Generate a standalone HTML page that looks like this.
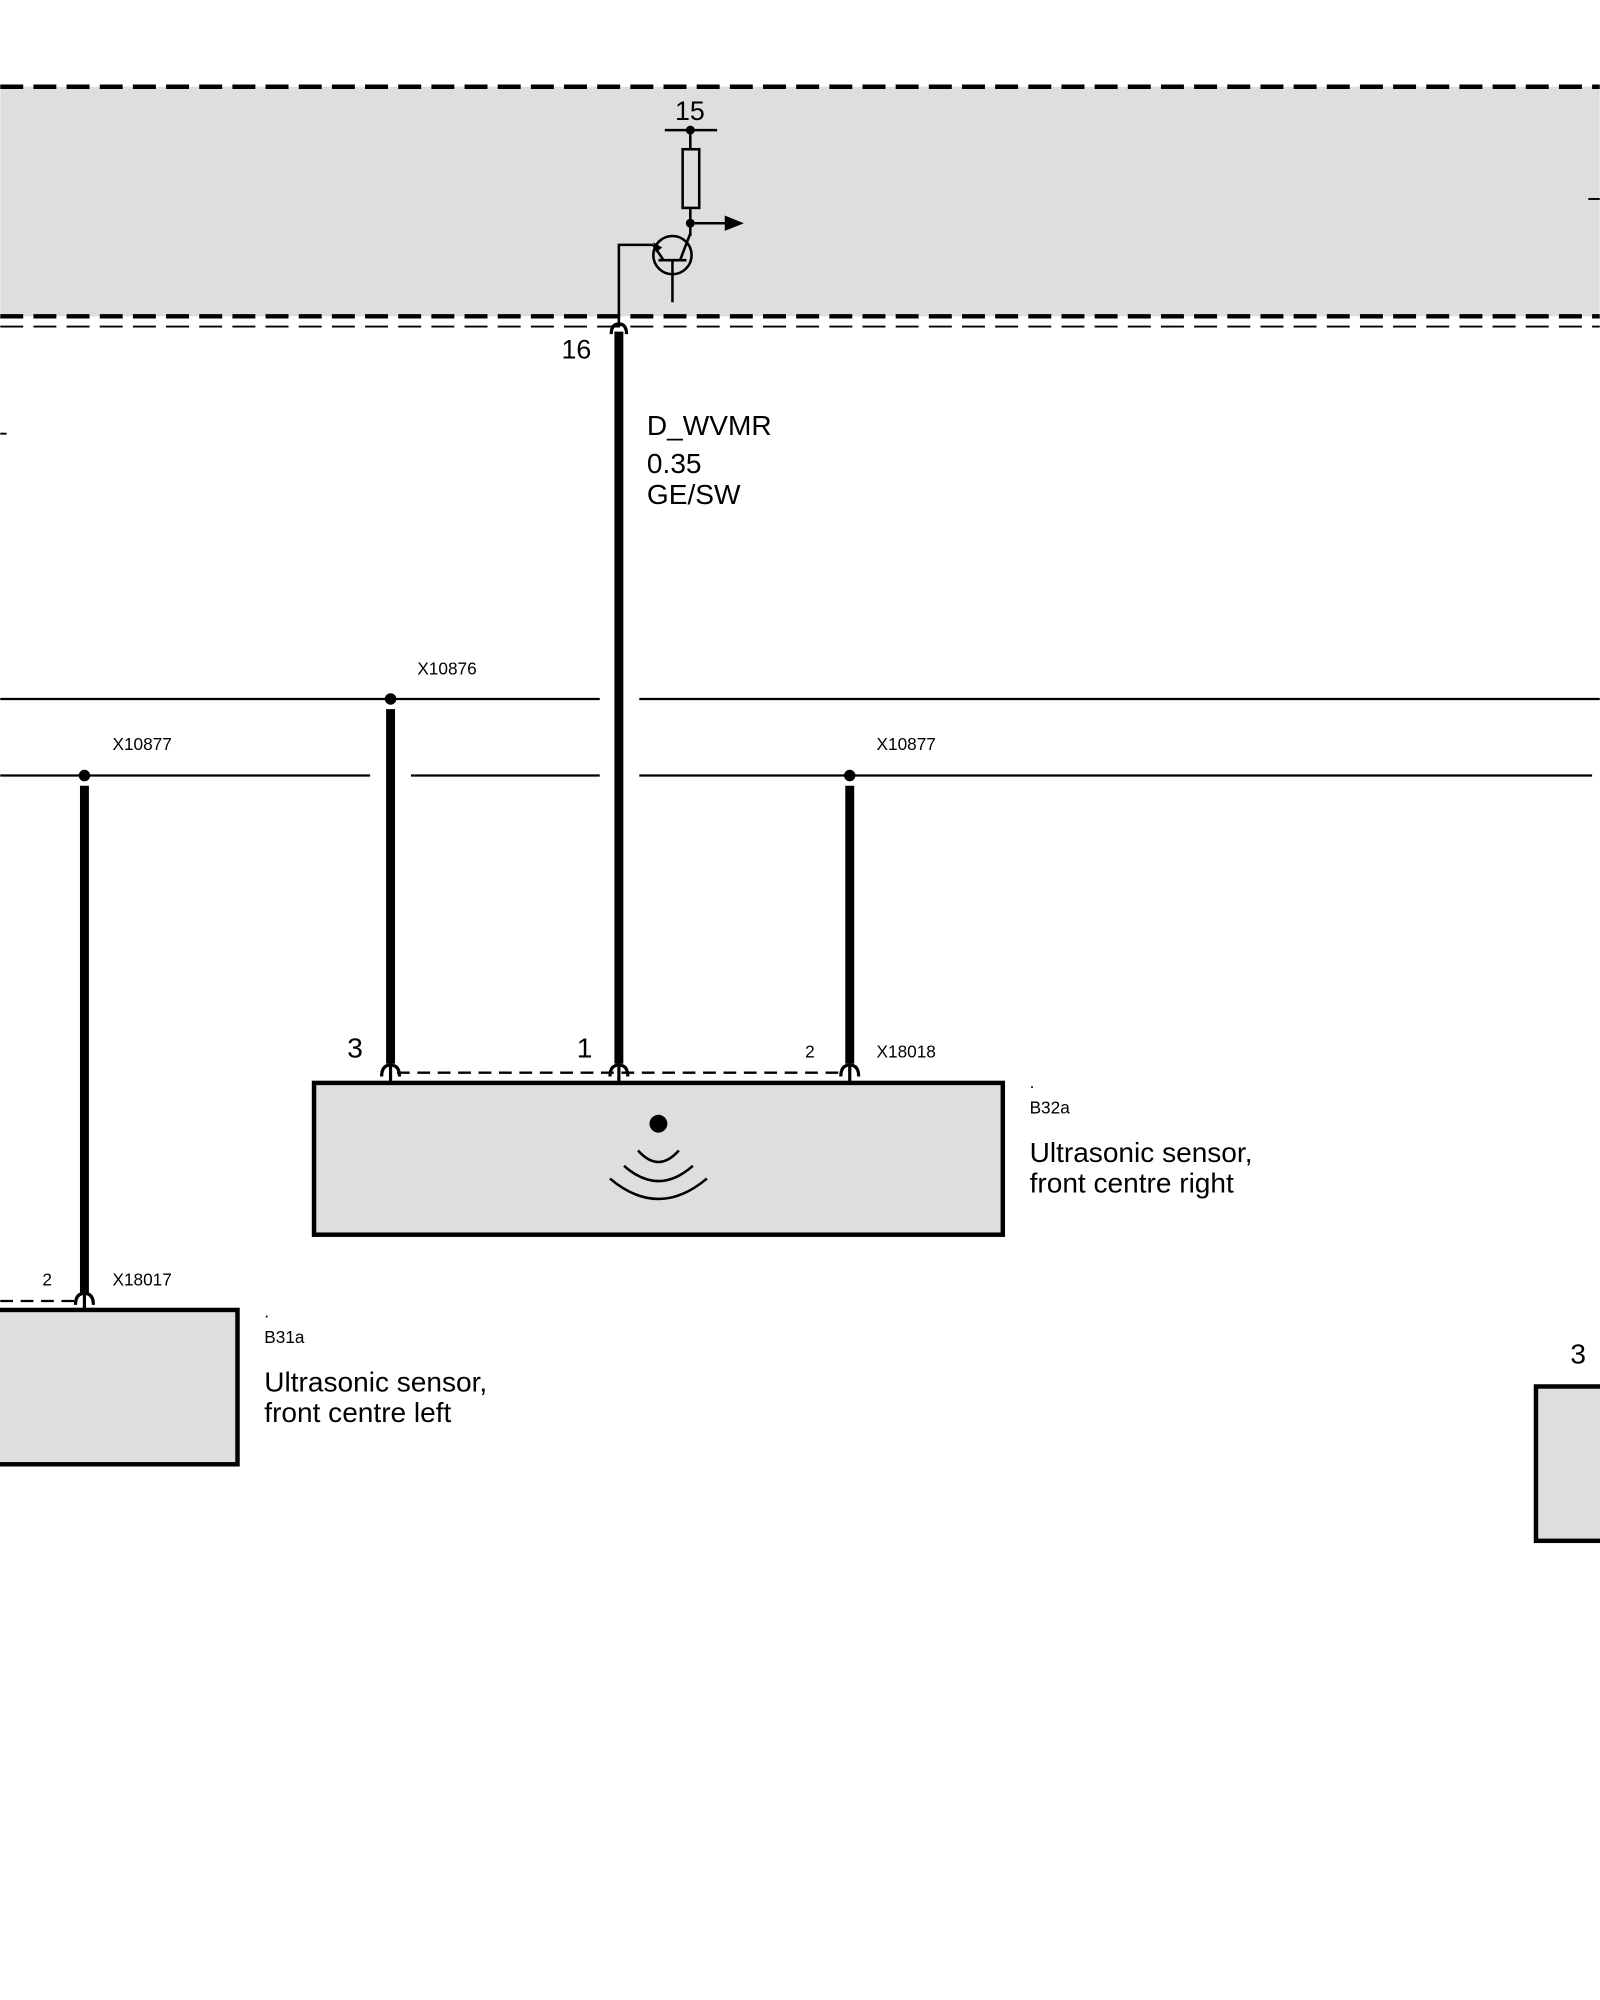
<!DOCTYPE html>
<html><head><meta charset="utf-8"><style>
html,body{margin:0;padding:0;background:#fff;}
svg{display:block;}
text{font-family:"Liberation Sans",sans-serif;fill:#000;}
</style></head><body>
<svg width="1600" height="2000" viewBox="0 0 1254 1568" xmlns="http://www.w3.org/2000/svg">
<rect x="0" y="68" width="1254" height="180" fill="#dedede"/>
<line x1="0" y1="68" x2="1254" y2="68" stroke="#000" stroke-width="3.5" stroke-dasharray="18,8"/>
<line x1="0" y1="248" x2="1254" y2="248" stroke="#000" stroke-width="3.5" stroke-dasharray="18,8"/>
<line x1="0" y1="256" x2="1254" y2="256" stroke="#000" stroke-width="1.5" stroke-dasharray="18,8"/>
<line x1="1245" y1="156" x2="1254" y2="156" stroke="#000" stroke-width="1.5"/>
<line x1="0" y1="340" x2="5" y2="340" stroke="#000" stroke-width="1.5"/>
<text x="529" y="94" font-size="21">15</text>
<line x1="521" y1="102" x2="562" y2="102" stroke="#000" stroke-width="2"/>
<circle cx="541" cy="102" r="3.5"/>
<line x1="541" y1="102" x2="541" y2="117" stroke="#000" stroke-width="2"/>
<rect x="535" y="117" width="13" height="46" fill="none" stroke="#000" stroke-width="2"/>
<line x1="541" y1="163" x2="541" y2="185" stroke="#000" stroke-width="2"/>
<circle cx="541" cy="175" r="3.5"/>
<line x1="541" y1="175" x2="570" y2="175" stroke="#000" stroke-width="2"/>
<polygon points="568,169 583,175 568,181"/>
<circle cx="527" cy="200" r="15" fill="none" stroke="#000" stroke-width="2"/>
<line x1="516" y1="204" x2="538" y2="204" stroke="#000" stroke-width="2"/>
<line x1="541" y1="183" x2="533" y2="204" stroke="#000" stroke-width="2"/>
<line x1="520" y1="204" x2="512" y2="192" stroke="#000" stroke-width="2"/>
<polygon points="512,190 519,194 514,198"/>
<line x1="527" y1="204" x2="527" y2="237" stroke="#000" stroke-width="2"/>
<polyline points="512,192 485,192 485,256" fill="none" stroke="#000" stroke-width="2"/>
<path d="M479,262 Q479,254 485,254 Q491,254 491,262" fill="none" stroke="#000" stroke-width="2.5"/>
<line x1="485" y1="260" x2="485" y2="834" stroke="#000" stroke-width="7"/>
<text x="440" y="281" font-size="21">16</text>
<text x="507" y="341" font-size="22">D_WVMR</text>
<text x="507" y="371" font-size="22">0.35</text>
<text x="507" y="395" font-size="22">GE/SW</text>
<line x1="0" y1="548" x2="470" y2="548" stroke="#000" stroke-width="1.8"/>
<line x1="501" y1="548" x2="1254" y2="548" stroke="#000" stroke-width="1.8"/>
<line x1="0" y1="608" x2="290" y2="608" stroke="#000" stroke-width="1.8"/>
<line x1="322" y1="608" x2="470" y2="608" stroke="#000" stroke-width="1.8"/>
<line x1="501" y1="608" x2="1248" y2="608" stroke="#000" stroke-width="1.8"/>
<circle cx="306" cy="548" r="4.5"/>
<circle cx="66" cy="608" r="4.5"/>
<circle cx="666" cy="608" r="4.5"/>
<text x="327" y="529" font-size="13.5">X10876</text>
<text x="88" y="588" font-size="13.5">X10877</text>
<text x="687" y="588" font-size="13.5">X10877</text>
<line x1="306" y1="556" x2="306" y2="834" stroke="#000" stroke-width="7"/>
<line x1="666" y1="616" x2="666" y2="834" stroke="#000" stroke-width="7"/>
<line x1="66" y1="616" x2="66" y2="1014" stroke="#000" stroke-width="7"/>
<line x1="311" y1="841" x2="661" y2="841" stroke="#000" stroke-width="1.8" stroke-dasharray="10,6"/>
<g fill="none" stroke="#000" stroke-width="2.5">
<path d="M299,844 Q299,835 306,835 Q313,835 313,844"/><line x1="306" y1="836" x2="306" y2="849"/>
<path d="M478,844 Q478,835 485,835 Q492,835 492,844"/><line x1="485" y1="836" x2="485" y2="849"/>
<path d="M659,844 Q659,835 666,835 Q673,835 673,844"/><line x1="666" y1="836" x2="666" y2="849"/>
</g>
<text x="272" y="829" font-size="22">3</text>
<text x="452" y="829" font-size="22">1</text>
<text x="631" y="829" font-size="13.5">2</text>
<text x="687" y="829" font-size="13.5">X18018</text>
<rect x="246" y="849" width="540" height="119" fill="#dedede" stroke="#000" stroke-width="3.5"/>
<circle cx="516" cy="881" r="7"/>
<g fill="none" stroke="#000" stroke-width="2">
<path d="M500,902 Q516,920 532,902"/>
<path d="M489,914 Q516,938 543,914"/>
<path d="M478,924 Q516,956 554,924"/>
</g>
<text x="807" y="853" font-size="13.5">.</text>
<text x="807" y="873" font-size="13.5">B32a</text>
<text x="807" y="911" font-size="22">Ultrasonic sensor,</text>
<text x="807" y="935" font-size="22">front centre right</text>
<line x1="0" y1="1020" x2="60" y2="1020" stroke="#000" stroke-width="1.8" stroke-dasharray="10,6"/>
<g fill="none" stroke="#000" stroke-width="2.5">
<path d="M59,1023 Q59,1014 66,1014 Q73,1014 73,1023"/><line x1="66" y1="1015" x2="66" y2="1027"/>
</g>
<text x="33" y="1008" font-size="13.5">2</text>
<text x="88" y="1008" font-size="13.5">X18017</text>
<rect x="-5" y="1027" width="191" height="121" fill="#dedede" stroke="#000" stroke-width="3.5"/>
<text x="207" y="1033" font-size="13.5">.</text>
<text x="207" y="1053" font-size="13.5">B31a</text>
<text x="207" y="1091" font-size="22">Ultrasonic sensor,</text>
<text x="207" y="1115" font-size="22">front centre left</text>
<text x="1231" y="1069" font-size="22">3</text>
<rect x="1204" y="1087" width="60" height="121" fill="#dedede" stroke="#000" stroke-width="3.5"/>
</svg>
</body></html>
